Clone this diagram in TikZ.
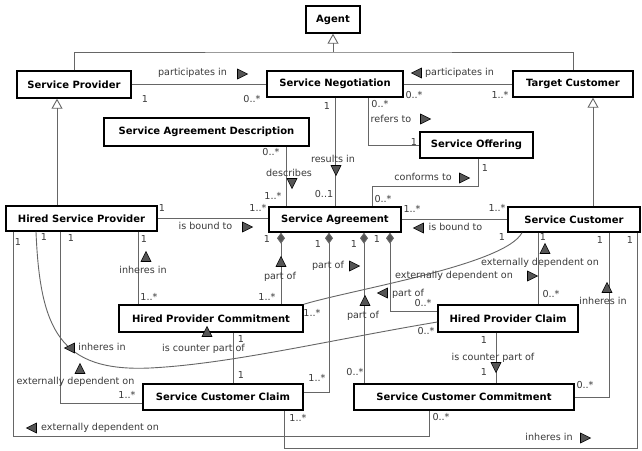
\documentclass[tikz,border=0pt]{standalone}
\usepackage{fontspec}
\setmainfont{DejaVu Sans}
\usetikzlibrary{arrows.meta}
\definecolor{lncol}{HTML}{666666}
\definecolor{txcol}{HTML}{3A3A3A}
\definecolor{tfcol}{HTML}{555555}
\tikzset{
  cls/.style 2 args={draw=black, line width=1.4pt, fill=white, inner sep=0pt,
    font=\bfseries\fontsize{10}{12}\selectfont, minimum width=#1pt, minimum height=#2pt},
  lbl/.style={font=\fontsize{9.6}{11}\selectfont, text=txcol, inner sep=0pt, text height=7pt, text depth=2pt},
  conn/.style={draw=lncol, line width=0.9pt},
  genarrow/.style={-{Triangle[open,length=10pt,width=11pt]}},
  comp/.style={{Diamond[length=11pt,width=8pt,fill=tfcol]}-},
  dtri/.pic={\filldraw[fill=tfcol,draw=black,line width=0.6pt] (-4.5,-5) -- (5.5,0) -- (-4.5,5) -- cycle;}
}
\begin{document}
\begin{tikzpicture}[x=1pt,y=-1pt]
\useasboundingbox (0,0) rectangle (642,450);
\fill[white] (0,0) rectangle (642,450);

% classes
\node[cls={54}{27}]  (agent) at (333,19.5)  {Agent};
\node[cls={114}{27}] (sp)    at (74,84.5)   {Service Provider};
\node[cls={136}{26}] (sn)    at (335,84)    {Service Negotiation};
\node[cls={120}{26}] (tc)    at (573,84)    {Target Customer};
\node[cls={205}{28}] (sad)   at (206.5,132) {Service Agreement Description};
\node[cls={113}{26}] (so)    at (476.5,145) {Service Offering};
\node[cls={151}{25}] (hsp)   at (81.5,218.5){Hired Service Provider};
\node[cls={132}{25}] (sa)    at (335,219.5) {Service Agreement};
\node[cls={132}{25}] (sc)    at (574,219.5) {Service Customer};
\node[cls={184}{27}] (hpc)   at (211,318.5) {Hired Provider Commitment};
\node[cls={140}{27}] (hpcl)  at (508,318.5) {Hired Provider Claim};
\node[cls={160}{26}] (scc)   at (223,397)   {Service Customer Claim};
\node[cls={220}{26}] (scm)   at (464,397)   {Service Customer Commitment};

% helper x positions
\foreach \v in {13,36,57,60,138,233,281,284,286,329,364,368,372,390,429,478,496,522,538,593,609,637}
  {\coordinate (v\v) at (\v,0);}
\coordinate (gj) at (333,52);

% generalizations
\draw[conn] (sp.north) |- (gj) -| (tc.north);
\draw[conn,genarrow] (gj) -- (agent.south);
\draw[conn,genarrow] (hsp.north -| v57) -- (sp.south -| v57);
\draw[conn,genarrow] (sc.north -| v593) -- (tc.south -| v593);

% associations
\draw[conn] (sp.east) -- (sp.east -| sn.west);
\draw[conn] (sn.east) -- (sn.east -| tc.west);
\draw[conn] (sn.south -| v368) |- (so.west);
\draw[conn] (sn.south) -- (sa.north);
\draw[conn] (sad.south -| v286) -- (sa.north -| v286);
\draw[conn] (so.south -| v478) -- (478,186) -- (372,186) -- (sa.north -| v372);
\draw[conn] (hsp.east) -- (hsp.east -| sa.west);
\draw[conn] (sa.east) -- (sa.east -| sc.west);
\draw[conn] (hsp.south -| v138) -- (hpc.north -| v138);
\draw[conn,comp] (sa.south -| v281) -- (hpc.north -| v281);
\draw[conn,comp] (sa.south -| v329) |- ([yshift=5pt]scc.east);
\draw[conn,comp] (sa.south -| v364) -- (scm.north -| v364);
\draw[conn,comp] (sa.south -| v390) |- ([yshift=7.5pt]hpcl.west);
\draw[conn] (sc.south -| v538) -- (hpcl.north -| v538);
\draw[conn] (sc.south -| v522) .. controls (505,265) and (350,290) .. (hpc.north east);
\draw[conn] (sc.south -| v609) |- (scm.east);
\draw[conn] (sc.south -| v637) -- (637,448) -- (284,448) -- (scc.south -| v284);
\draw[conn] (hsp.south -| v13) -- (13,436) -- (429,436) -- (scm.south -| v429);
\draw[conn] (hsp.south -| v60) |- ([yshift=-6pt]scc.west);
\draw[conn] (hsp.south -| v36) .. controls (40,330) and (60,372) .. (150,368)
  .. controls (230,364) and (330,340) .. ([yshift=-3.5pt]hpcl.west);
\draw[conn] (hpc.south -| v233) -- (scc.north -| v233);
\draw[conn] (hpcl.south -| v496) -- (scm.north -| v496);

% labels and multiplicities
\node[lbl] (m1) at (145,100) {1};
\node[lbl] (m2) at (252,100) {0..*};
\node[lbl] (l1) at (192.5,73) {participates in};
\pic at (242,74) {dtri};
\node[lbl] (l2) at (459.5,73) {participates in};
\pic[rotate=180] at (417,73) {dtri};
\node[lbl] (m3) at (414,96) {0..*};
\node[lbl] (m4) at (500,96) {1..*};
\node[lbl] (m5) at (327,107) {1};
\node[lbl] (m6) at (380,105) {0..*};
\node[lbl] (l3) at (391,120) {refers to};
\pic at (425,119) {dtri};
\node[lbl] (m7) at (414,143) {1};
\node[lbl] (l4) at (333,160) {results in};
\pic[rotate=-90] at (336,170) {dtri};
\node[lbl] (m8) at (324,195) {0..1};
\node[lbl] (m9) at (271,153) {0..*};
\node[lbl] (l5) at (289,174) {describes};
\pic[rotate=-90] at (292,183) {dtri};
\node[lbl] (m10) at (273,197) {1..*};
\node[lbl] (l6) at (423,178) {conforms to};
\pic at (464,178) {dtri};
\node[lbl] (m11) at (485,169) {1};
\node[lbl] (m12) at (383,200) {0..*};
\node[lbl] (m13) at (162,209) {1};
\node[lbl] (m14) at (258,209) {1..*};
\node[lbl] (l7) at (205.5,227) {is bound to};
\pic at (247,227) {dtri};
\node[lbl] (m15) at (412,210) {1..*};
\node[lbl] (m16) at (497,209) {1..*};
\node[lbl] (l8) at (455.5,228) {is bound to};
\pic[rotate=180] at (419,228) {dtri};
% below Hired Service Provider
\node[lbl] (m17) at (18,243) {1};
\node[lbl] (m18) at (44,238) {1};
\node[lbl] (m19) at (71,239) {1};
\node[lbl] (m20) at (144,240) {1};
\pic[rotate=90] at (146,257) {dtri};
\node[lbl] (l9) at (143,271) {inheres in};
\node[lbl] (m21) at (149,298) {1..*};
% below Service Agreement
\node[lbl] (m22) at (267,240) {1};
\node[lbl] (m23) at (318,245) {1};
\node[lbl] (m24) at (354,245) {1};
\node[lbl] (m25) at (377,240) {1};
\pic[rotate=90] at (281,262) {dtri};
\node[lbl] (l10) at (280,277) {part of};
\node[lbl] (m26) at (267,298) {1..*};
\node[lbl] (l11) at (328,266) {part of};
\pic at (354,266) {dtri};
\pic[rotate=90] at (365,301) {dtri};
\node[lbl] (l12) at (363,316) {part of};
\node[lbl] (m27) at (355,373) {0..*};
\pic[rotate=180] at (383,293) {dtri};
\node[lbl] (l13) at (408,294) {part of};
\node[lbl] (m28) at (423,304) {0..*};
% below Service Customer
\node[lbl] (m29) at (543,238) {1};
\pic[rotate=90] at (545,249) {dtri};
\node[lbl] (l14) at (540,263) {externally dependent on};
\node[lbl] (m30) at (551,295) {0..*};
\node[lbl] (m31) at (502,238) {1};
\node[lbl] (l15) at (454,276) {externally dependent on};
\pic at (532,276) {dtri};
\node[lbl] (m32) at (312,314) {1..*};
\node[lbl] (m33) at (600,241) {1};
\pic[rotate=90] at (607,288) {dtri};
\node[lbl] (l16) at (603,302) {inheres in};
\node[lbl] (m34) at (585,386) {0..*};
\node[lbl] (m35) at (630,241) {1};
\node[lbl] (l17) at (549,438) {inheres in};
\pic at (585,438) {dtri};
\node[lbl] (m36) at (298,419) {1..*};
\node[lbl] (m37) at (317,379) {1..*};
% lower left
\pic[rotate=180] at (32,428) {dtri};
\node[lbl] (l18) at (100,428) {externally dependent on};
\node[lbl] (m38) at (441,418) {0..*};
\pic[rotate=90] at (80,369) {dtri};
\node[lbl] (l19) at (75.5,382) {externally dependent on};
\node[lbl] (m39) at (127,396) {1..*};
\pic[rotate=180] at (70,348) {dtri};
\node[lbl] (l20) at (102,348) {inheres in};
\node[lbl] (m40) at (426,332) {0..*};
\pic[rotate=90] at (207,332) {dtri};
\node[lbl] (l21) at (203.5,349) {is counter part of};
\node[lbl] (m41) at (241,340) {1};
\node[lbl] (m42) at (241,376) {1};
\node[lbl] (m43) at (484,341) {1};
\node[lbl] (l22) at (493,358) {is counter part of};
\pic[rotate=-90] at (496,367) {dtri};
\node[lbl] (m44) at (484,373) {1};
\end{tikzpicture}
\end{document}
